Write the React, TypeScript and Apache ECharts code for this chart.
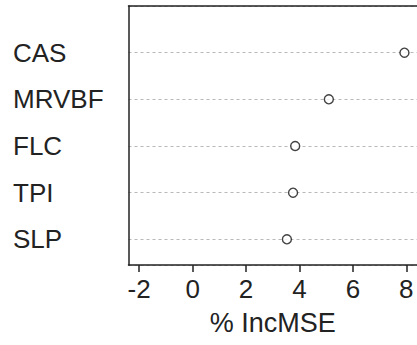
import React, { useEffect, useRef } from "react";
import * as echarts from "echarts";

// Variables, ordered bottom to top as in the dot chart
const categories = ["SLP", "TPI", "FLC", "MRVBF", "CAS"];
// % IncMSE values
const incMSE = [3.53, 3.76, 3.84, 5.1, 7.93];
const xAxisTitle = "% IncMSE";

const FONT = "'Liberation Sans', Arial, Helvetica, sans-serif";

export default function App() {
  const ref = useRef<HTMLDivElement>(null);

  useEffect(() => {
    if (!ref.current) return;
    const chart = echarts.init(ref.current, null, { renderer: "svg" });
    const option = {
      animation: false,
      backgroundColor: "#ffffff",
      grid: {
        left: 128.5,
        top: 6,
        width: 293.5,
        height: 259,
        show: false,
      },
      xAxis: [
        {
          type: "value",
          position: "bottom",
          min: -2.4,
          max: 8.4,
          name: xAxisTitle,
          nameLocation: "middle",
          nameGap: 44,
          nameTextStyle: { fontFamily: FONT, fontSize: 27, color: "#222" },
          axisLine: { show: true, onZero: false, lineStyle: { color: "#222", width: 1.5 } },
          axisTick: { show: true, length: 7, lineStyle: { color: "#222", width: 1.5 } },
          axisLabel: {
            fontFamily: FONT,
            fontSize: 26,
            color: "#222",
            margin: 11,
            showMinLabel: false,
            showMaxLabel: false,
            formatter: (v: number) => (Number.isInteger(v) ? String(v) : ""),
          },
          splitLine: { show: false },
          z: 3,
        },
        {
          type: "value",
          position: "top",
          min: -2.4,
          max: 8.4,
          axisLine: { show: true, onZero: false, lineStyle: { color: "#222", width: 1.5 } },
          axisTick: { show: false },
          axisLabel: { show: false },
          splitLine: { show: false },
          z: 3,
        },
      ],
      yAxis: {
        type: "value",
        min: 0.45,
        max: 6,
        axisLine: { show: true, onZero: false, lineStyle: { color: "#222", width: 1.5 } },
        axisTick: { show: false },
        axisLabel: {
          fontFamily: FONT,
          fontSize: 26,
          color: "#222",
          align: "left",
          margin: 115.5,
          showMinLabel: false,
          showMaxLabel: false,
          formatter: (v: number) =>
            Number.isInteger(v) && v >= 1 && v <= categories.length ? categories[v - 1] : "",
        },
        splitLine: {
          show: true,
          lineStyle: { color: "#b8b8b8", width: 1, type: [3, 3] },
        },
        z: 3,
      },
      series: [
        {
          type: "scatter",
          xAxisIndex: 0,
          data: incMSE.map((v, i) => [v, i + 1]),
          symbol: "circle",
          symbolSize: 9,
          itemStyle: { color: "#ffffff", borderColor: "#111", borderWidth: 1.4 },
          z: 5,
        },
      ],
    };
    chart.setOption(option as any);
    return () => chart.dispose();
  }, []);

  return (
    <div
      ref={ref}
      style={{ position: "fixed", left: 0, top: 0, width: 417, height: 345, background: "#fff" }}
    />
  );
}
